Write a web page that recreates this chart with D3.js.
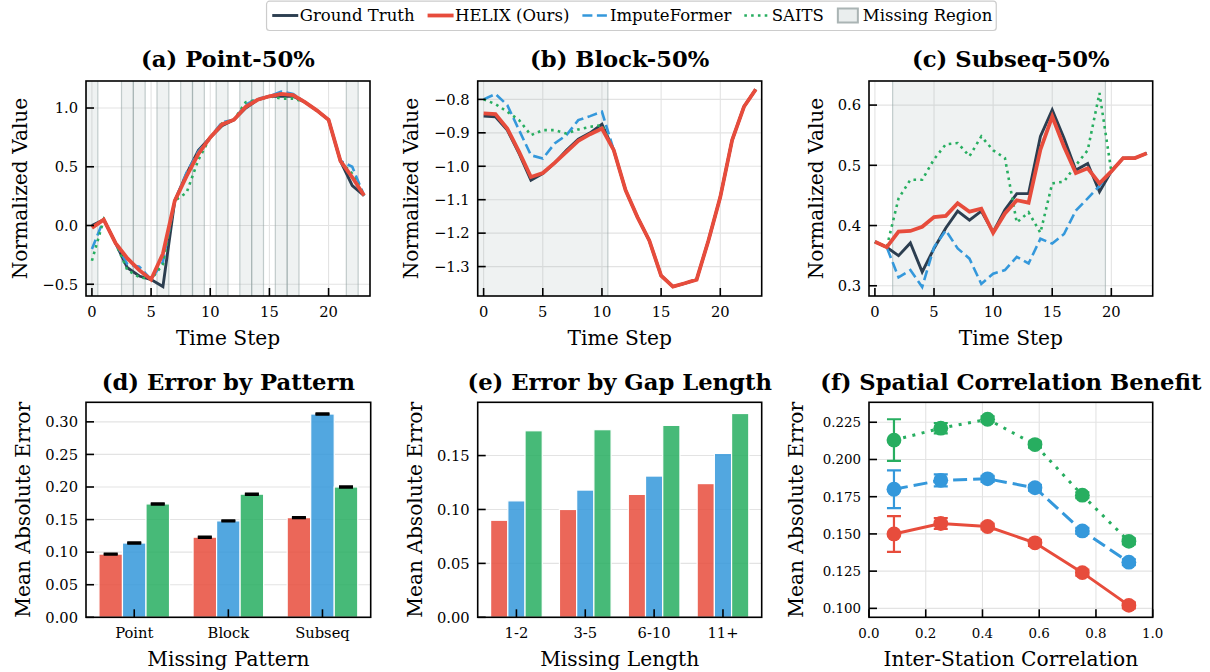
<!DOCTYPE html>
<html>
<head>
<meta charset="utf-8">
<script src="https://cdn.jsdelivr.net/npm/d3@7"></script>
<style>
  html, body { margin: 0; padding: 0; background: #fff; }
  svg { display: block; font-family: "DejaVu Serif", serif; }
</style>
</head>
<body>
<svg id="fig" width="1210" height="672"></svg>
<script>
// ---------------- data ----------------
const timeSteps = [0,1,2,3,4,5,6,7,8,9,10,11,12,13,14,15,16,17,18,19,20,21,22,23];

// (a) point-wise missingness
const pointMissing = [0,3,4,6,8,9,11,13,14,16,17,22];
const pointTruth  = [0.00, 0.05,-0.15,-0.36,-0.43,-0.46,-0.52, 0.21, 0.44, 0.64, 0.75, 0.85, 0.90, 1.00, 1.07, 1.10, 1.10, 1.10, 1.05, 0.98, 0.90, 0.55, 0.34, 0.255];
const pointHelix  = [-0.02, 0.05,-0.15,-0.28,-0.38,-0.46,-0.24, 0.21, 0.42, 0.61, 0.75, 0.86, 0.90, 1.01, 1.07, 1.10, 1.12, 1.11, 1.05, 0.98, 0.90, 0.55, 0.41, 0.255];
const pointImpute = [-0.20, 0.05,-0.15,-0.33,-0.35,-0.46,-0.31, 0.21, 0.45, 0.63, 0.75, 0.88, 0.90, 1.03, 1.08, 1.10, 1.14, 1.12, 1.05, 0.98, 0.90, 0.55, 0.50, 0.255];
const pointSaits  = [-0.30, 0.05,-0.15,-0.38,-0.44,-0.46,-0.33, 0.21, 0.28, 0.56, 0.75, 0.87, 0.90, 1.05, 1.07, 1.10, 1.08, 1.08, 1.05, 0.98, 0.90, 0.55, 0.44, 0.255];
const pointRange  = [-0.60, 1.23];
const pointTicks  = [-0.5, 0.0, 0.5, 1.0];

// (b) block missingness
const blockMissing = [[-0.5, 10.5]];
const blockTruth  = [-0.850,-0.852,-0.892,-0.962,-1.042,-1.022,-0.990,-0.952,-0.919,-0.900,-0.874,-0.952,-1.072,-1.152,-1.222,-1.327,-1.360,-1.350,-1.339,-1.222,-1.092,-0.922,-0.822,-0.770];
const blockHelix  = [-0.842,-0.844,-0.887,-0.957,-1.032,-1.020,-0.990,-0.957,-0.924,-0.904,-0.887,-0.952,-1.072,-1.152,-1.222,-1.327,-1.360,-1.350,-1.339,-1.222,-1.092,-0.922,-0.822,-0.770];
const blockImpute = [-0.800,-0.784,-0.817,-0.892,-0.967,-0.977,-0.932,-0.907,-0.862,-0.850,-0.837,-0.952,-1.072,-1.152,-1.222,-1.327,-1.360,-1.350,-1.339,-1.222,-1.092,-0.922,-0.822,-0.770];
const blockSaits  = [-0.800,-0.814,-0.837,-0.862,-0.907,-0.892,-0.892,-0.902,-0.890,-0.882,-0.877,-0.952,-1.072,-1.152,-1.222,-1.327,-1.360,-1.350,-1.339,-1.222,-1.092,-0.922,-0.822,-0.770];
const blockRange  = [-1.388, -0.745];
const blockTicks  = [-1.3, -1.2, -1.1, -1.0, -0.9, -0.8];

// (c) subsequence missingness
const subseqMissing = [[1.5, 19.5]];
const subseqTruth  = [0.373,0.364,0.350,0.371,0.323,0.362,0.396,0.424,0.409,0.424,0.389,0.426,0.453,0.453,0.548,0.592,0.545,0.492,0.503,0.456,0.490,0.512,0.512,0.520];
const subseqHelix  = [0.373,0.364,0.390,0.391,0.398,0.414,0.416,0.437,0.423,0.428,0.388,0.420,0.442,0.438,0.526,0.581,0.531,0.487,0.495,0.470,0.490,0.512,0.512,0.520];
const subseqImpute = [0.373,0.364,0.314,0.326,0.298,0.364,0.392,0.362,0.345,0.303,0.320,0.326,0.348,0.337,0.378,0.370,0.386,0.425,0.445,0.466,0.490,0.512,0.512,0.520];
const subseqSaits  = [0.373,0.364,0.445,0.476,0.476,0.510,0.535,0.537,0.515,0.548,0.525,0.512,0.405,0.422,0.388,0.470,0.473,0.500,0.525,0.620,0.490,0.512,0.512,0.520];
const subseqRange  = [0.283, 0.640];
const subseqTicks  = [0.3, 0.4, 0.5, 0.6];

const timeTicks = [0, 5, 10, 15, 20];

// (d) error by missing pattern
const patterns      = ["Point", "Block", "Subseq"];
const helixPattern  = [0.097, 0.123, 0.153];
const imputePattern = [0.114, 0.148, 0.312];
const saitsPattern  = [0.174, 0.189, 0.200];
const patternErr    = [0.0008, 0.0008, 0.0008];
const patternTicks  = [0.00, 0.05, 0.10, 0.15, 0.20, 0.25, 0.30];

// (e) error by gap length
const gapLengths = ["1-2", "3-5", "6-10", "11+"];
const helixGap   = [0.090, 0.100, 0.114, 0.124];
const imputeGap  = [0.108, 0.118, 0.131, 0.152];
const saitsGap   = [0.173, 0.174, 0.178, 0.189];
const gapTicks   = [0.00, 0.05, 0.10, 0.15];

// (f) error vs inter-station correlation
const correlation = [0.088, 0.253, 0.418, 0.585, 0.752, 0.916];
const helixCorr   = [0.150, 0.157, 0.155, 0.144, 0.124, 0.102];
const imputeCorr  = [0.180, 0.186, 0.187, 0.181, 0.152, 0.131];
const saitsCorr   = [0.213, 0.221, 0.227, 0.210, 0.176, 0.145];
const helixCorrErr  = [0.012, 0.0036, 0.002, 0.002, 0.002, 0.002];
const imputeCorrErr = [0.0127, 0.004, 0.002, 0.002, 0.002, 0.002];
const saitsCorrErr  = [0.014, 0.0035, 0.002, 0.002, 0.002, 0.002];
const corrXTicks = [0.0, 0.2, 0.4, 0.6, 0.8, 1.0];
const corrYTicks = [0.100, 0.125, 0.150, 0.175, 0.200, 0.225];

// ---------------- styling ----------------
const C = {
  truth: "#2c3e50", helix: "#e74c3c", impute: "#3498db", saits: "#27ae60",
  missing: "#95a5a6", grid: "#e3e3e3", text: "#000"
};
const FS = { title: 22.7, label: 20.2, tick: 14.7, tickSmall: 13.4, legend: 16.5 };

const svg = d3.select("#fig");
let clipId = 0;

const boxes = {
  a: { x0: 86,    x1: 370,    y0: 81,    y1: 296 },
  b: { x0: 477.7, x1: 761.7,  y0: 81,    y1: 296 },
  c: { x0: 869,   x1: 1152.7, y0: 81,    y1: 296 },
  d: { x0: 86,    x1: 370.7,  y0: 402.3, y1: 617.3 },
  e: { x0: 477.7, x1: 761.7,  y0: 402.3, y1: 617.3 },
  f: { x0: 869,   x1: 1152.7, y0: 402.3, y1: 617.3 }
};

// Builds one panel: grid, clipped plotting layer, spines, inward ticks, labels.
function panel(box, cfg) {
  const g = svg.append("g");
  const id = "clip" + (clipId++);
  svg.append("defs").append("clipPath").attr("id", id)
    .append("rect").attr("x", box.x0).attr("y", box.y0)
    .attr("width", box.x1 - box.x0).attr("height", box.y1 - box.y0);

  const grid = g.append("g");
  const plot = g.append("g").attr("clip-path", `url(#${id})`);
  const front = g.append("g");
  const x = cfg.x, y = cfg.y;
  const tickFs = cfg.tickFs || FS.tick;

  if (cfg.gridX) {
    grid.selectAll(null).data(cfg.xTicks).join("line")
      .attr("x1", d => x(d)).attr("x2", d => x(d))
      .attr("y1", box.y0).attr("y2", box.y1)
      .attr("stroke", C.grid).attr("stroke-width", 1.1);
  }
  grid.selectAll(null).data(cfg.yTicks).join("line")
    .attr("x1", box.x0).attr("x2", box.x1)
    .attr("y1", d => y(d)).attr("y2", d => y(d))
    .attr("stroke", C.grid).attr("stroke-width", 1.1);

  // inward ticks
  front.selectAll(null).data(cfg.xTicks).join("line")
    .attr("x1", d => x(d)).attr("x2", d => x(d))
    .attr("y1", box.y1).attr("y2", box.y1 - 8)
    .attr("stroke", "#000").attr("stroke-width", 1.6);
  front.selectAll(null).data(cfg.yTicks).join("line")
    .attr("x1", box.x0).attr("x2", box.x0 + 8)
    .attr("y1", d => y(d)).attr("y2", d => y(d))
    .attr("stroke", "#000").attr("stroke-width", 1.6);

  front.append("rect")
    .attr("x", box.x0).attr("y", box.y0)
    .attr("width", box.x1 - box.x0).attr("height", box.y1 - box.y0)
    .attr("fill", "none").attr("stroke", "#000").attr("stroke-width", 1.6);

  // tick labels
  front.selectAll(null).data(cfg.xTicks).join("text")
    .attr("x", d => x(d)).attr("y", box.y1 + 21)
    .attr("text-anchor", "middle").attr("font-size", tickFs).attr("fill", C.text)
    .text(cfg.xFmt);
  front.selectAll(null).data(cfg.yTicks).join("text")
    .attr("x", box.x0 - 8).attr("y", d => y(d)).attr("dy", "0.36em")
    .attr("text-anchor", "end").attr("font-size", tickFs).attr("fill", C.text)
    .text(cfg.yFmt);

  const cx = (box.x0 + box.x1) / 2, cy = (box.y0 + box.y1) / 2;
  front.append("text").attr("x", cx).attr("y", box.y0 - cfg.titleGap)
    .attr("text-anchor", "middle").attr("font-size", FS.title)
    .attr("font-weight", "bold").attr("fill", C.text).text(cfg.title);
  front.append("text").attr("x", cx).attr("y", box.y1 + 48.5)
    .attr("text-anchor", "middle").attr("font-size", FS.label)
    .attr("fill", C.text).text(cfg.xLabel);
  front.append("text")
    .attr("transform", `translate(${cfg.yLabelX},${cy}) rotate(-90)`)
    .attr("text-anchor", "middle").attr("font-size", FS.label)
    .attr("fill", C.text).text(cfg.yLabel);

  return plot;
}

const seriesStyle = {
  truth:  { color: C.truth,  width: 2.9, dash: null },
  helix:  { color: C.helix,  width: 3.8, dash: null },
  impute: { color: C.impute, width: 2.6, dash: "10,4.5" },
  saits:  { color: C.saits,  width: 2.6, dash: "2.6,4.2" }
};

// Time-series panels (a)-(c)
function seriesPanel(box, cfg) {
  const x = d3.scaleLinear().domain([-0.5, 23.5]).range([box.x0, box.x1]);
  const y = d3.scaleLinear().domain(cfg.range).range([box.y1, box.y0]);
  const plot = panel(box, {
    x, y, xTicks: timeTicks, yTicks: cfg.ticks, gridX: true,
    xFmt: d3.format("d"), yFmt: d3.format(".1f"),
    title: cfg.title, titleGap: 14, xLabel: "Time Step",
    yLabel: "Normalized Value", yLabelX: cfg.yLabelX
  });

  // missing-region spans
  plot.selectAll(null).data(cfg.spans).join("rect")
    .attr("x", d => x(d[0])).attr("width", d => x(d[1]) - x(d[0]))
    .attr("y", box.y0).attr("height", box.y1 - box.y0)
    .attr("fill", C.missing).attr("fill-opacity", 0.15);
  plot.selectAll(null).data(cfg.spans.flat()).join("line")
    .attr("x1", d => x(d)).attr("x2", d => x(d))
    .attr("y1", box.y0).attr("y2", box.y1)
    .attr("stroke", C.missing).attr("stroke-opacity", 0.55).attr("stroke-width", 1.2);

  const line = d3.line().x((d, i) => x(timeSteps[i])).y(d => y(d));
  for (const key of ["truth", "impute", "saits", "helix"]) {
    const s = seriesStyle[key];
    plot.append("path").datum(cfg[key]).attr("d", line)
      .attr("fill", "none").attr("stroke", s.color).attr("stroke-width", s.width)
      .attr("stroke-linejoin", "miter").attr("stroke-dasharray", s.dash);
  }
}

const pointSpans = pointMissing.map(t => [t - 0.5, t + 0.5]);

seriesPanel(boxes.a, { title: "(a) Point-50%", range: pointRange, ticks: pointTicks,
  spans: pointSpans, truth: pointTruth, helix: pointHelix, impute: pointImpute, saits: pointSaits, yLabelX: 26.7 });
seriesPanel(boxes.b, { title: "(b) Block-50%", range: blockRange, ticks: blockTicks,
  spans: blockMissing, truth: blockTruth, helix: blockHelix, impute: blockImpute, saits: blockSaits, yLabelX: 418.3 });
seriesPanel(boxes.c, { title: "(c) Subseq-50%", range: subseqRange, ticks: subseqTicks,
  spans: subseqMissing, truth: subseqTruth, helix: subseqHelix, impute: subseqImpute, saits: subseqSaits, yLabelX: 823.3 });

// Grouped bar panels (d), (e)
function barPanel(box, cfg) {
  const n = cfg.cats.length;
  const x = d3.scaleLinear().domain([-0.375 - 0.05 * (n - 0.25), n - 1 + 0.375 + 0.05 * (n - 0.25)]).range([box.x0, box.x1]);
  const y = d3.scaleLinear().domain([0, cfg.top]).range([box.y1, box.y0]);
  const plot = panel(box, {
    x, y, xTicks: d3.range(n), yTicks: cfg.ticks, gridX: false,
    xFmt: i => cfg.cats[i], yFmt: d3.format(".2f"),
    title: cfg.title, titleGap: 12.3, xLabel: cfg.xLabel,
    yLabel: "Mean Absolute Error", yLabelX: cfg.yLabelX
  });
  const w = 0.25;
  const groups = [
    { vals: cfg.helix,  color: C.helix,  off: -w },
    { vals: cfg.impute, color: C.impute, off: 0 },
    { vals: cfg.saits,  color: C.saits,  off: w }
  ];
  groups.forEach(gr => {
    plot.selectAll(null).data(gr.vals).join("rect")
      .attr("x", (d, i) => x(i + gr.off - w / 2))
      .attr("width", (d, i) => x(i + gr.off + w / 2) - x(i + gr.off - w / 2))
      .attr("y", d => y(d)).attr("height", d => y(0) - y(d))
      .attr("fill", gr.color).attr("fill-opacity", 0.85)
      .attr("stroke", "#fff").attr("stroke-width", 1.2);
  });
  if (cfg.err) {
    groups.forEach(gr => {
      gr.vals.forEach((v, i) => {
        const cx = x(i + gr.off), e = cfg.err[i];
        plot.append("line").attr("x1", cx).attr("x2", cx)
          .attr("y1", y(v - e)).attr("y2", y(v + e)).attr("stroke", "#000").attr("stroke-width", 2);
        [v - e, v + e].forEach(c => plot.append("line")
          .attr("x1", cx - 7).attr("x2", cx + 7).attr("y1", y(c)).attr("y2", y(c))
          .attr("stroke", "#000").attr("stroke-width", 2.4));
      });
    });
  }
}

barPanel(boxes.d, { title: "(d) Error by Pattern", xLabel: "Missing Pattern", cats: patterns,
  helix: helixPattern, impute: imputePattern, saits: saitsPattern, err: patternErr,
  top: 0.330, ticks: patternTicks, yLabelX: 30 });
barPanel(boxes.e, { title: "(e) Error by Gap Length", xLabel: "Missing Length", cats: gapLengths,
  helix: helixGap, impute: imputeGap, saits: saitsGap, err: null,
  top: 0.1994, ticks: gapTicks, yLabelX: 421.7 });

// (f) correlation benefit
(function () {
  const box = boxes.f;
  const x = d3.scaleLinear().domain([0, 1]).range([box.x0, box.x1]);
  const y = d3.scaleLinear().domain([0.094, 0.2384]).range([box.y1, box.y0]);
  const plot = panel(box, {
    x, y, xTicks: corrXTicks, yTicks: corrYTicks, gridX: true, tickFs: FS.tickSmall,
    xFmt: d3.format(".1f"), yFmt: d3.format(".3f"),
    title: "(f) Spatial Correlation Benefit", titleGap: 12.3,
    xLabel: "Inter-Station Correlation",
    yLabel: "Mean Absolute Error", yLabelX: 803.3
  });
  const sets = [
    { vals: saitsCorr,  err: saitsCorrErr,  color: C.saits,  width: 3, dash: "3,6.5" },
    { vals: imputeCorr, err: imputeCorrErr, color: C.impute, width: 3, dash: "14,6" },
    { vals: helixCorr,  err: helixCorrErr,  color: C.helix,  width: 3, dash: null }
  ];
  const line = d3.line().x((d, i) => x(correlation[i])).y(d => y(d));
  sets.forEach(s => {
    plot.append("path").datum(s.vals).attr("d", line).attr("fill", "none")
      .attr("stroke", s.color).attr("stroke-width", s.width).attr("stroke-dasharray", s.dash);
    s.vals.forEach((v, i) => {
      const cx = x(correlation[i]), e = s.err[i];
      plot.append("line").attr("x1", cx).attr("x2", cx).attr("y1", y(v - e)).attr("y2", y(v + e))
        .attr("stroke", s.color).attr("stroke-width", 2.2);
      [v - e, v + e].forEach(c => plot.append("line")
        .attr("x1", cx - 7).attr("x2", cx + 7).attr("y1", y(c)).attr("y2", y(c))
        .attr("stroke", s.color).attr("stroke-width", 2.2));
    });
    plot.selectAll(null).data(s.vals).join("circle")
      .attr("cx", (d, i) => x(correlation[i])).attr("cy", d => y(d)).attr("r", 7.4)
      .attr("fill", s.color);
  });
})();

// ---------------- legend ----------------
(function () {
  const entries = [
    { label: "Ground Truth",   kind: "line", key: "truth" },
    { label: "HELIX (Ours)",   kind: "line", key: "helix" },
    { label: "ImputeFormer",   kind: "line", key: "impute" },
    { label: "SAITS",          kind: "line", key: "saits" },
    { label: "Missing Region", kind: "patch" }
  ];
  const g = svg.append("g");
  const frame = g.append("rect");
  const items = g.append("g");
  let cur = 0;
  const midY = 15.5;
  entries.forEach((en, i) => {
    if (i > 0) cur += 13;
    let textX;
    if (en.kind === "line") {
      const s = seriesStyle[en.key];
      items.append("line").attr("x1", cur).attr("x2", cur + 26).attr("y1", midY).attr("y2", midY)
        .attr("stroke", s.color).attr("stroke-width", s.width).attr("stroke-dasharray", s.dash);
      textX = cur + 27.5;
    } else {
      items.append("rect").attr("x", cur + 1).attr("y", midY - 7).attr("width", 20).attr("height", 14)
        .attr("fill", "#eaeeee").attr("stroke", "#aab4b4").attr("stroke-width", 2);
      textX = cur + 26;
    }
    const t = items.append("text").attr("x", textX).attr("y", midY).attr("dy", "0.35em")
      .attr("font-size", FS.legend).attr("fill", C.text).text(en.label);
    cur = textX + t.node().getComputedTextLength();
  });
  const padL = 5.7, padR = 4, total = cur + padL + padR;
  const left = 631.4 - total / 2;
  items.attr("transform", `translate(${left + padL},0)`);
  frame.attr("x", left).attr("y", 1.2).attr("width", total).attr("height", 29.3).attr("rx", 3)
    .attr("fill", "#fff").attr("fill-opacity", 0.8).attr("stroke", "#cccccc").attr("stroke-width", 1.2);
})();
</script>
</body>
</html>
